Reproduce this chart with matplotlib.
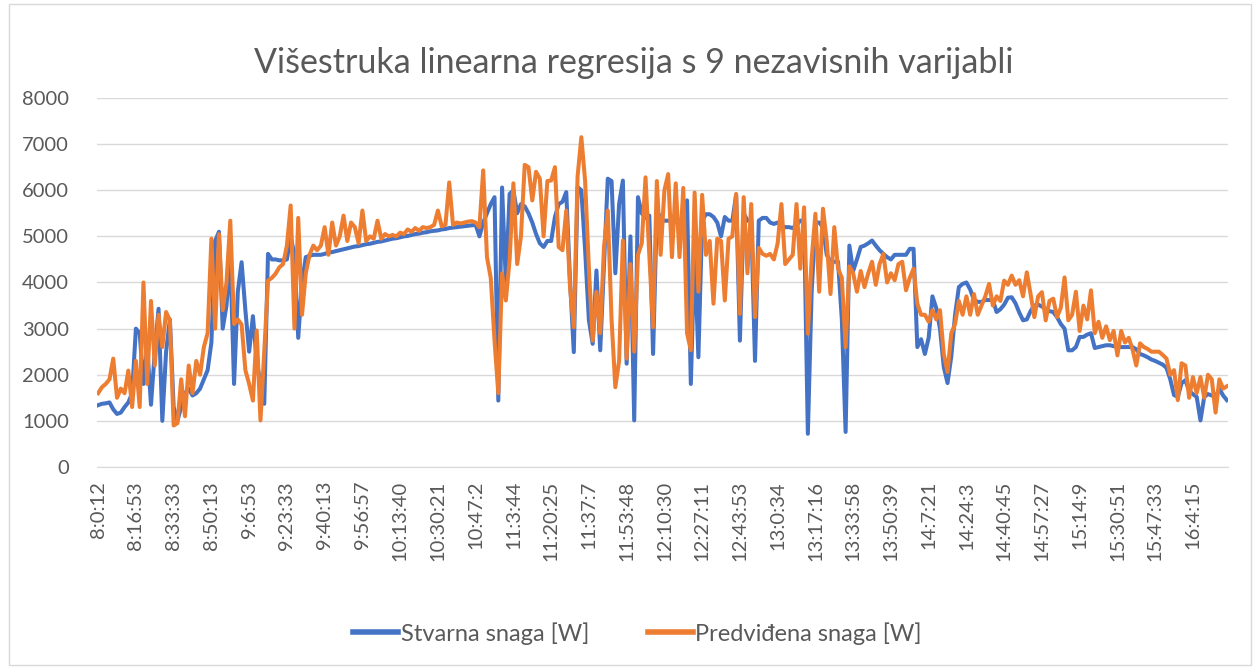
import numpy as np
import matplotlib
matplotlib.use("Agg")
import matplotlib.pyplot as plt
from matplotlib.patches import Rectangle

plt.rcParams['font.family'] = ['Lato', 'DejaVu Sans']

# tick labels on the time axis (one every 1000 samples)
time_labels = ["8:0:12", "8:16:53", "8:33:33", "8:50:13", "9:6:53", "9:23:33",
               "9:40:13", "9:56:57", "10:13:40", "10:30:21", "10:47:2", "11:3:44",
               "11:20:25", "11:37:7", "11:53:48", "12:10:30", "12:27:11", "12:43:53",
               "13:0:34", "13:17:16", "13:33:58", "13:50:39", "14:7:21", "14:24:3",
               "14:40:45", "14:57:27", "15:14:9", "15:30:51", "15:47:33", "16:4:15"]

# Stvarna snaga [W], read every ~100 samples
actual = [1340, 1370, 1380, 1400, 1250, 1150, 1180, 1300, 1400, 1600,
          3000, 2900, 1800, 2600, 1350, 2500, 3430, 1000, 2500, 3200,
          1300, 1000, 1300, 1600, 1700, 1550, 1600, 1700, 1900, 2100,
          2700, 4900, 5100, 3000, 3500, 4600, 1800, 3800, 4440, 3400,
          2500, 3270, 2300, 1800, 1370, 4620, 4500, 4500, 4480, 4480,
          4500, 5000, 4600, 2800, 4000, 4550, 4580, 4600, 4600, 4600,
          4620, 4650, 4660, 4680, 4700, 4720, 4740, 4760, 4780, 4790,
          4810, 4830, 4840, 4860, 4880, 4890, 4910, 4930, 4950, 4960,
          4980, 5000, 5010, 5030, 5050, 5060, 5080, 5090, 5110, 5120,
          5130, 5150, 5160, 5180, 5190, 5200, 5210, 5220, 5230, 5240,
          5250, 5000, 5300, 5500, 5700, 5850, 1440, 6060, 4000, 5920,
          6000, 5500, 5700, 5650, 5500, 5300, 5050, 4850, 4770, 4900,
          4900, 5420, 5700, 5750, 5960, 4040, 2490, 6070, 6000, 4700,
          3180, 2670, 4260, 2530, 4400, 6250, 6200, 4200, 5700, 6210,
          2240, 5000, 1010, 5850, 5500, 5400, 5450, 2450, 5560, 5400,
          5340, 5340, 5340, 5320, 5270, 5340, 5780, 1800, 4700, 2380,
          5340, 5480, 5480, 5420, 5300, 5000, 5420, 5340, 5340, 5900,
          2740, 5500, 5340, 5340, 2300, 5340, 5400, 5400, 5300, 5270,
          5300, 5220, 5200, 5200, 5180, 5250, 5340, 5340, 720, 3800,
          5300, 5300, 5200, 4600, 4450, 4450, 4450, 3200, 760, 4800,
          4250, 4500, 4770, 4800, 4850, 4910, 4800, 4700, 4620, 4550,
          4500, 4600, 4600, 4600, 4600, 4730, 4730, 2600, 2770, 2450,
          2800, 3700, 3450, 3000, 2170, 1820, 2400, 3300, 3900, 3970,
          4000, 3850, 3620, 3580, 3580, 3620, 3620, 3620, 3360, 3420,
          3520, 3670, 3680, 3550, 3350, 3180, 3200, 3380, 3500, 3520,
          3480, 3420, 3380, 3360, 3250, 3100, 3000, 2530, 2530, 2600,
          2820, 2820, 2870, 2900, 2580, 2600, 2620, 2640, 2640, 2620,
          2600, 2600, 2600, 2600, 2600, 2550, 2450, 2420, 2380, 2330,
          2300, 2260, 2220, 2150, 1900, 1560, 1520, 1820, 1880, 1650,
          1580, 1520, 1010, 1520, 1580, 1550, 1520, 1700, 1550, 1450]

# Predviđena snaga [W]
predicted = [1600, 1730, 1800, 1900, 2350, 1500, 1700, 1600, 2090, 1300,
             2300, 1300, 4000, 1800, 3600, 2200, 3300, 2600, 3360, 3180,
             900, 950, 1900, 1100, 2200, 1600, 2300, 2000, 2600, 2900,
             4950, 3000, 5050, 3400, 4000, 5340, 3100, 3200, 3090, 2100,
             1800, 1440, 2960, 1010, 2500, 4040, 4100, 4190, 4330, 4400,
             4800, 5670, 3000, 5400, 3300, 4200, 4600, 4800, 4700, 4800,
             5200, 4600, 5300, 4800, 5000, 5450, 4900, 5300, 5200, 4850,
             5560, 4900, 5000, 4950, 5340, 4950, 5050, 5000, 5030, 5000,
             5080, 5050, 5150, 5100, 5180, 5120, 5200, 5180, 5200, 5250,
             5560, 5220, 5250, 6170, 5250, 5300, 5280, 5300, 5320, 5330,
             5300, 5200, 6430, 4550, 4100, 2740, 1600, 4200, 3610, 4500,
             6150, 4400, 5000, 6550, 6500, 5780, 6400, 6250, 5000, 6200,
             6210, 6500, 4770, 4700, 5560, 3900, 3030, 6300, 7150, 6200,
             4300, 2740, 3800, 2900, 4770, 5560, 3200, 1730, 2300, 4910,
             2350, 4400, 2500, 4600, 4850, 6280, 4600, 3030, 6200, 4600,
             6000, 6350, 4550, 6150, 4550, 6050, 2900, 2530, 5950, 3800,
             5900, 4600, 4900, 3540, 4950, 4900, 3610, 4950, 5000, 5920,
             3320, 5850, 4200, 5700, 3250, 4750, 4620, 4580, 4620, 4500,
             4850, 5700, 4400, 4500, 4600, 5700, 4300, 5630, 2890, 4500,
             5490, 3800, 5600, 4900, 3750, 5200, 4300, 4100, 2600, 4350,
             4200, 3800, 4250, 3900, 4200, 4450, 3950, 4400, 4620, 4000,
             4200, 4050, 4400, 4450, 3830, 4100, 4300, 3540, 3300, 3300,
             3150, 3400, 3200, 3400, 2450, 2060, 2900, 3100, 3600, 3300,
             3700, 3300, 3750, 3300, 3500, 3700, 3970, 3500, 3700, 3600,
             4040, 3950, 4150, 3950, 4050, 3700, 4220, 3750, 3250, 3700,
             3790, 3180, 3600, 3650, 3250, 3450, 4110, 3180, 3300, 3800,
             2950, 3500, 3200, 3830, 2900, 3150, 2800, 3050, 2750, 2950,
             2420, 2950, 2700, 2800, 2550, 2200, 2680, 2600, 2560, 2500,
             2500, 2500, 2430, 2350, 2000, 2100, 1450, 2250, 2200, 1500,
             1950, 1600, 1950, 1500, 2000, 1900, 1180, 1900, 1700, 1750]

step = 100
t = np.arange(len(actual)) * step

blue = "#4472C4"
orange = "#ED7D31"
grid_c = "#D9D9D9"
text_c = "#595959"

fig = plt.figure(figsize=(12.55, 6.68), dpi=100)
fig.patches.append(Rectangle((0.007, 0.004), 0.99, 0.99, transform=fig.transFigure,
                             fill=False, edgecolor=grid_c, linewidth=1))
ax = fig.add_axes([0.0773, 0.3009, 0.9012, 0.5524])

ax.plot(t, actual, color=blue, linewidth=2.9, label="Stvarna snaga [W]", solid_joinstyle="round")
ax.plot(t, predicted, color=orange, linewidth=2.9, label="Predviđena snaga [W]", solid_joinstyle="round")

ax.set_ylim(0, 8000)
ax.set_yticks(range(0, 8001, 1000))
ax.set_xlim(-30, t[-1] + 30)
ax.set_xticks(np.arange(len(time_labels)) * 1000)
ax.set_xticklabels(time_labels, rotation=90)
ax.grid(axis="y", color=grid_c, linewidth=1)
ax.set_axisbelow(True)
for s in ["top", "right", "left"]:
    ax.spines[s].set_visible(False)
ax.spines["bottom"].set_color(grid_c)
ax.tick_params(axis="both", length=0, labelsize=14.5, colors=text_c)
ax.tick_params(axis="y", pad=20)
ax.tick_params(axis="x", pad=10)

fig.text(0.505, 0.905, "Višestruka linearna regresija s 9 nezavisnih varijabli",
         ha="center", va="center", fontsize=24.5, color=text_c)

leg = fig.legend(loc="center", bbox_to_anchor=(0.508, 0.052), ncol=2, frameon=False,
                 fontsize=17, handlelength=1.9, columnspacing=2.5, handletextpad=0.1)
for line in leg.get_lines():
    line.set_linewidth(4)
for txt in leg.get_texts():
    txt.set_color(text_c)

fig.savefig("out.png", dpi=100)
